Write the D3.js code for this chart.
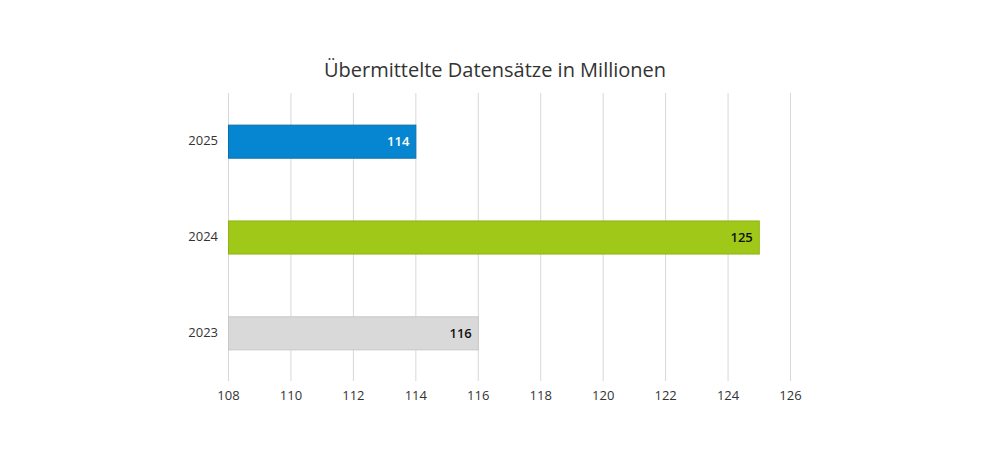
<!DOCTYPE html>
<html><head><meta charset="utf-8">
<script src="https://cdn.jsdelivr.net/npm/d3@7"></script>
<style>body{margin:0;background:#fff;}svg{display:block;font-family:"Open Sans",sans-serif;}</style>
</head><body>
<svg id="c" width="990" height="461"></svg>
<script>
const categories = ["2025", "2024", "2023"];
const values = [114, 125, 116];
const colors = ["#0686d0", "#a0c818", "#d9d9d9"];
const strokes = ["#0a6fae", "#8db214", "#c8c8c8"];
const labelColors = ["#ffffff", "#111111", "#111111"];
const ticks = [108, 110, 112, 114, 116, 118, 120, 122, 124, 126];
const title = "Übermittelte Datensätze in Millionen";

const svg = d3.select("#c");
const x = d3.scaleLinear().domain([108, 126]).range([228, 790]);
const y = d3.scaleBand().domain(categories).range([93, 381]).paddingInner(0.655).paddingOuter(0.33);

svg.append("text").attr("x", 495).attr("y", 77).attr("text-anchor", "middle")
  .attr("font-size", 20).attr("fill", "#333").text(title);

svg.append("g").selectAll("line").data(ticks).join("line")
  .attr("x1", d => x(d) + 0.5).attr("x2", d => x(d) + 0.5)
  .attr("y1", 93).attr("y2", 381)
  .attr("stroke", "#d8d8d8").attr("stroke-width", 1);

const xAxis = svg.append("g").attr("transform", "translate(0,381)")
  .call(d3.axisBottom(x).tickValues(ticks).tickSize(0).tickPadding(10));
xAxis.select(".domain").remove();
xAxis.selectAll("text").attr("font-size", 13).attr("fill", "#333").attr("font-family", "Open Sans, sans-serif");

const yAxis = svg.append("g").attr("transform", "translate(228,0)")
  .call(d3.axisLeft(y).tickSize(0).tickPadding(10));
yAxis.select(".domain").remove();
yAxis.selectAll("text").attr("font-size", 13).attr("fill", "#333").attr("font-family", "Open Sans, sans-serif");

const data = categories.map((c, i) => ({c, v: values[i], i}));
svg.append("g").selectAll("rect").data(data).join("rect")
  .attr("x", x(108) + 0.5).attr("y", d => y(d.c) + 0.5)
  .attr("width", d => x(d.v) - x(108)).attr("height", y.bandwidth())
  .attr("fill", d => colors[d.i]).attr("stroke", d => strokes[d.i]).attr("stroke-width", 1);

svg.append("g").selectAll("text").data(data).join("text")
  .attr("x", d => x(d.v) - 6).attr("y", d => y(d.c) + y.bandwidth() / 2 + 5)
  .attr("text-anchor", "end").attr("font-size", 13).attr("font-weight", 600)
  .attr("fill", d => labelColors[d.i]).text(d => d.v);
</script>
</body></html>
